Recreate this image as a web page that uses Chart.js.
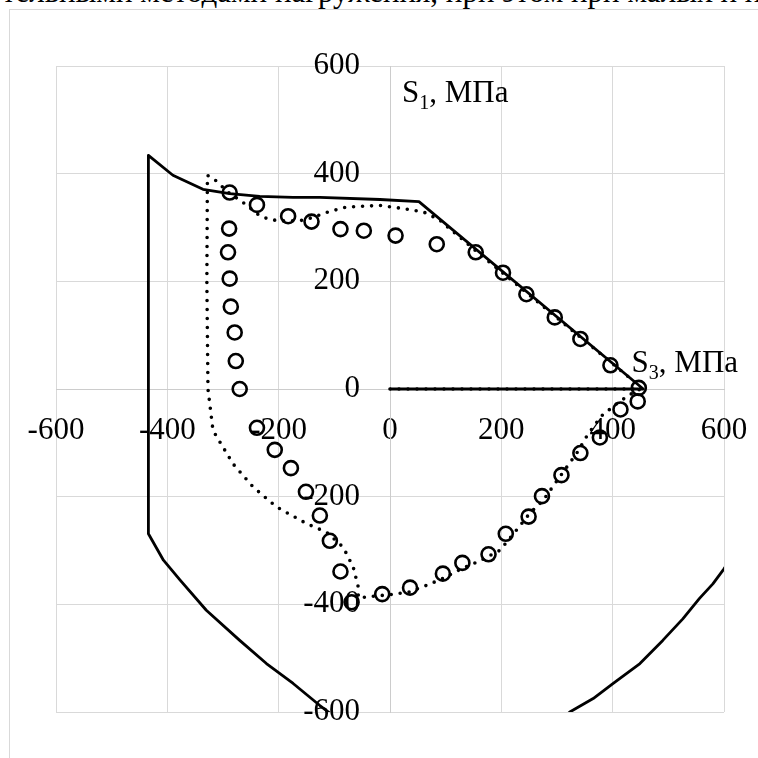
<!DOCTYPE html>
<html>
<head>
<meta charset="utf-8">
<script src="https://cdn.jsdelivr.net/npm/chart.js@4/dist/chart.umd.min.js"></script>
<style>
  html, body { margin: 0; padding: 0; width: 758px; height: 758px; overflow: hidden; background: #fff; }
  #textLine { position: absolute; left: 2px; top: -24px; white-space: nowrap; font: 31px 'Liberation Serif', 'Times New Roman', serif; line-height: 31px; color: #000; }
  #frame { position: absolute; left: 9px; top: 9px; width: 900px; height: 900px; border: 1.5px solid #d9d9d9; }
  #wrap { position: absolute; left: 0; top: 0; width: 758px; height: 758px; }
</style>
</head>
<body>
<div id="textLine">тельными методами нагружения, при этом при малых и при больших нагрузках подо</div>
<div id="frame"></div>
<div id="wrap"><canvas id="chart" width="758" height="758"></canvas></div>
<script>
// ─── Data ───────────────────────────────────────────
const tickValues = [-600, -400, -200, 0, 200, 400, 600];

// envelope curve (solid)
const envS3 = [0, 455, 52, -18, -126, -174, -234, -288, -336, -365, -390, -434,
  -434, -407, -377, -330, -270, -222, -174, -126, -60, 20, 100, 180, 260, 323,
  365, 401, 449, 490, 526, 556, 580, 600, 640];
const envS1 = [0, 0, 348, 352, 356, 356, 358, 363, 371, 385, 397, 434,
  -269, -318, -355, -411, -467, -510, -547, -588, -640, -680, -700, -695, -660, -600,
  -575, -547, -510, -467, -427, -389, -362, -334, -270];

// model curve (dotted)
const dotS3 = [0, 450, 435, 410, 380, 355, 335, 305, 275, 251, 225, 197, 160, 130,
  95, 65, 35, 0, -30, -57, -57, -66, -84, -114, -150, -204, -246, -282, -318, -327,
  -329, -328, -314, -290, -262, -238, -222, -200, -160, -141, -111, -78, -18, 18,
  60, 89, 107, 155, 450];
const dotS1 = [0, 0, -8, -25, -50, -85, -120, -163, -207, -231, -265, -300, -320, -333,
  -352, -365, -377, -382, -385, -388, -368, -331, -294, -266, -250, -219, -182, -139, -77, 0,
  200, 397, 388, 365, 345, 325, 317, 312, 313, 318, 329, 338, 341, 336,
  329, 314, 298, 256, 4];

// test points (open circles)
const expS3 = [-288, -239, -183, -141, -89, -47, 10, 84, 154, 203, 245, 296, 342, 396, 447,
  445, 414, 377, 342, 308, 273, 249, 208, 177, 130, 95, 36, -14, -69,
  -89, -108, -126, -151, -178, -207, -239, -270,
  -277, -279, -286, -288, -291, -289];
const expS1 = [365, 342, 321, 311, 297, 294, 285, 269, 254, 216, 176, 133, 93, 44, 2,
  -23, -38, -90, -119, -160, -199, -237, -269, -307, -323, -343, -369, -381, -396,
  -339, -282, -235, -191, -147, -113, -72, 0,
  52, 105, 153, 205, 254, 298];

// ─── Helpers ────────────────────────────────────────
function pts(xs, ys) { return xs.map((x, i) => ({ x: x, y: ys[i] })); }

const SERIF = "'Liberation Serif', 'Times New Roman', serif";

// axis names with subscripts, placed next to the axes
const axisNames = {
  id: 'axisNames',
  afterDraw(chart) {
    const { ctx, scales: { x, y } } = chart;
    const put = (px, py, idx) => {
      ctx.save();
      ctx.fillStyle = '#000';
      ctx.textBaseline = 'alphabetic';
      ctx.textAlign = 'left';
      ctx.font = '31px ' + SERIF;
      ctx.fillText('S', px, py);
      let w = ctx.measureText('S').width;
      ctx.font = '20px ' + SERIF;
      ctx.fillText(idx, px + w, py + 7);
      w += ctx.measureText(idx).width;
      ctx.font = '31px ' + SERIF;
      ctx.fillText(', МПа', px + w, py);
      ctx.restore();
    };
    put(x.getPixelForValue(0) + 12, y.getPixelForValue(600) + 36, '1');
    put(x.getPixelForValue(434), y.getPixelForValue(0) - 17, '3');
  }
};

// ─── Chart ──────────────────────────────────────────
// axes cross in the middle; the gap to the labels comes from an invisible tick mark
function axisOpts(gap) {
  return {
    type: 'linear',
    min: -600,
    max: 600,
    position: 'center',
    afterBuildTicks: axis => { axis.ticks = tickValues.map(v => ({ value: v })); },
    grid: { color: '#d9d9d9', lineWidth: 1, drawTicks: true, tickLength: gap, tickColor: 'rgba(0,0,0,0)' },
    border: { display: true, color: '#cccccc', width: 1 },
    ticks: {
      autoSkip: false,
      maxRotation: 0,
      padding: 0,
      color: '#000',
      font: { family: SERIF, size: 31 }
    }
  };
}

new Chart(document.getElementById('chart'), {
  type: 'scatter',
  data: {
    datasets: [
      {
        data: pts(envS3, envS1),
        showLine: true,
        borderColor: '#000',
        borderWidth: 2.8,
        borderJoinStyle: 'round',
        pointRadius: 0,
        tension: 0
      },
      {
        data: pts(dotS3, dotS1),
        showLine: true,
        borderColor: '#000',
        borderWidth: 3.6,
        borderDash: [0, 9],
        borderCapStyle: 'round',
        pointRadius: 0,
        tension: 0
      },
      {
        data: pts(expS3, expS1),
        showLine: false,
        pointRadius: 7,
        pointBorderWidth: 2.6,
        pointBorderColor: '#000',
        pointBackgroundColor: 'rgba(0,0,0,0)'
      }
    ]
  },
  options: {
    responsive: false,
    animation: false,
    events: [],
    layout: { padding: { left: 56, top: 66, right: 34, bottom: 46 } },
    plugins: { legend: { display: false }, tooltip: { enabled: false } },
    scales: {
      x: axisOpts(23),
      y: axisOpts(30)
    }
  },
  plugins: [axisNames]
});
</script>
</body>
</html>
